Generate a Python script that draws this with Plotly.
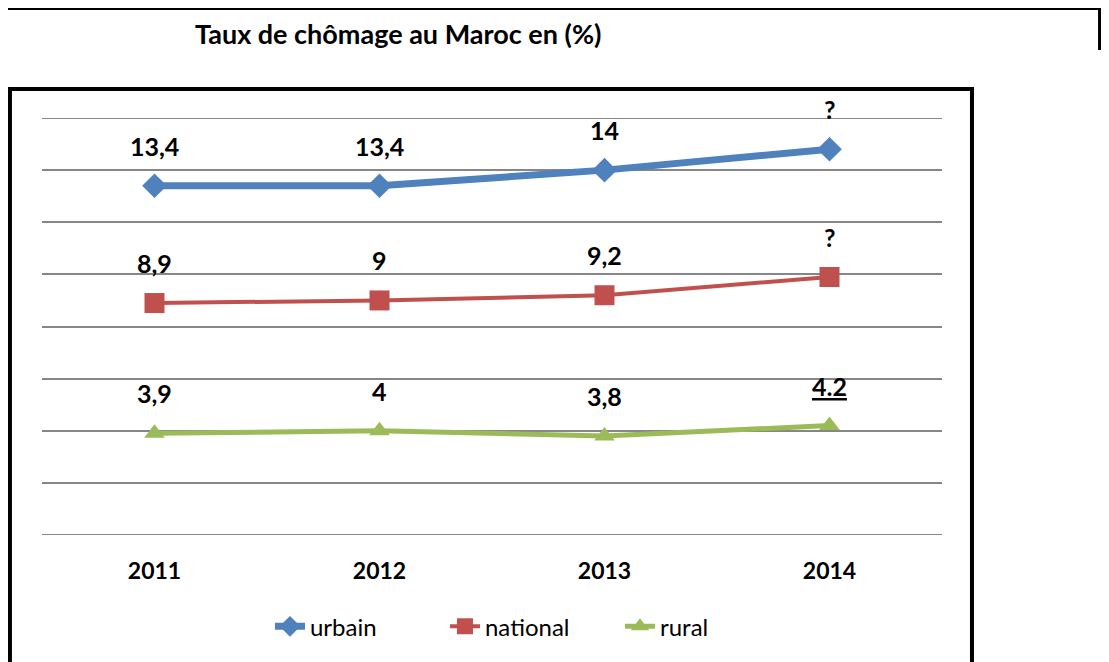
import plotly.graph_objects as go

years = ["2011", "2012", "2013", "2014"]
urbain = [13.4, 13.4, 14.0, 14.8]
national = [8.9, 9.0, 9.2, 9.9]
rural = [3.9, 4.0, 3.8, 4.2]
urbain_labels = ["13,4", "13,4", "14", "?"]
national_labels = ["8,9", "9", "9,2", "?"]
rural_labels = ["3,9", "4", "3,8", "<u>4.2</u>"]
y_min, y_max, y_step = 0, 16, 2

FONT = "Lato, 'Open Sans', sans-serif"
series = [
    ("urbain", urbain, urbain_labels, "#4F81BD", "diamond", 19, 7),
    ("national", national, national_labels, "#C0504D", "square", 20, 4),
    ("rural", rural, rural_labels, "#9BBB59", "triangle-up", 18, 5),
]

fig = go.Figure()
annotations = []
for name, vals, labels, color, sym, msize, lw in series:
    fig.add_trace(go.Scatter(
        x=years, y=vals, name=name, mode="lines+markers",
        line=dict(color=color, width=lw),
        marker=dict(symbol=sym, size=msize, color=color),
    ))
    for i, (y, t) in enumerate(zip(vals, labels)):
        annotations.append(dict(
            x=i, y=y, xref="x", yref="y", text=f"<b>{t}</b>", showarrow=False,
            yshift=40, yanchor="middle",
            font=dict(family=FONT, size=25, color="black"),
        ))

annotations.append(dict(
    x=0.3956, y=1.2038, xref="paper", yref="paper", xanchor="center", yanchor="middle",
    text="<b>Taux de chômage au Maroc en (%)</b>", showarrow=False,
    font=dict(family=FONT, size=27, color="black"),
))

shapes = [
    # chart box
    dict(type="rect", xref="paper", yref="paper", x0=-0.0356, x1=1.0333,
         y0=-0.35, y1=1.0695, line=dict(color="black", width=4), layer="below"),
    # top frame
    dict(type="line", xref="paper", yref="paper", x0=-0.06, x1=1.1756,
         y0=1.2638, y1=1.2638, line=dict(color="black", width=4)),
    dict(type="line", xref="paper", yref="paper", x0=1.1756, x1=1.1756,
         y0=1.2638, y1=1.163, line=dict(color="black", width=4)),
]
# boundary gridlines (plotly omits them at the range edges)
for yv in (y_min, y_max):
    shapes.append(dict(type="line", xref="paper", yref="y", x0=0, x1=1, y0=yv, y1=yv,
                       line=dict(color="#868686", width=2), layer="below"))

fig.update_layout(
    width=1109, height=662,
    margin=dict(l=34, r=175, t=110, b=135),
    paper_bgcolor="white", plot_bgcolor="white",
    showlegend=True,
    legend=dict(orientation="h", x=0.2533, y=-0.22, xanchor="left", yanchor="middle",
                font=dict(family=FONT, size=24, color="black"),
                entrywidth=130, entrywidthmode="pixels", tracegroupgap=0),
    annotations=annotations, shapes=shapes,
    font=dict(family=FONT),
)
fig.update_xaxes(type="category", range=[-0.5, 3.5], showgrid=False, showline=False,
                 zeroline=False,
                 tickfont=dict(family=FONT, size=23, color="black"),
                 tickprefix="<b>", ticksuffix="</b>", ticklabelstandoff=20,
                 fixedrange=True)
fig.update_yaxes(range=[y_min, y_max], dtick=y_step, showgrid=True, gridcolor="#868686",
                 gridwidth=2, zeroline=False, showline=False, showticklabels=False,
                 fixedrange=True)

fig.write_html("out.html")
